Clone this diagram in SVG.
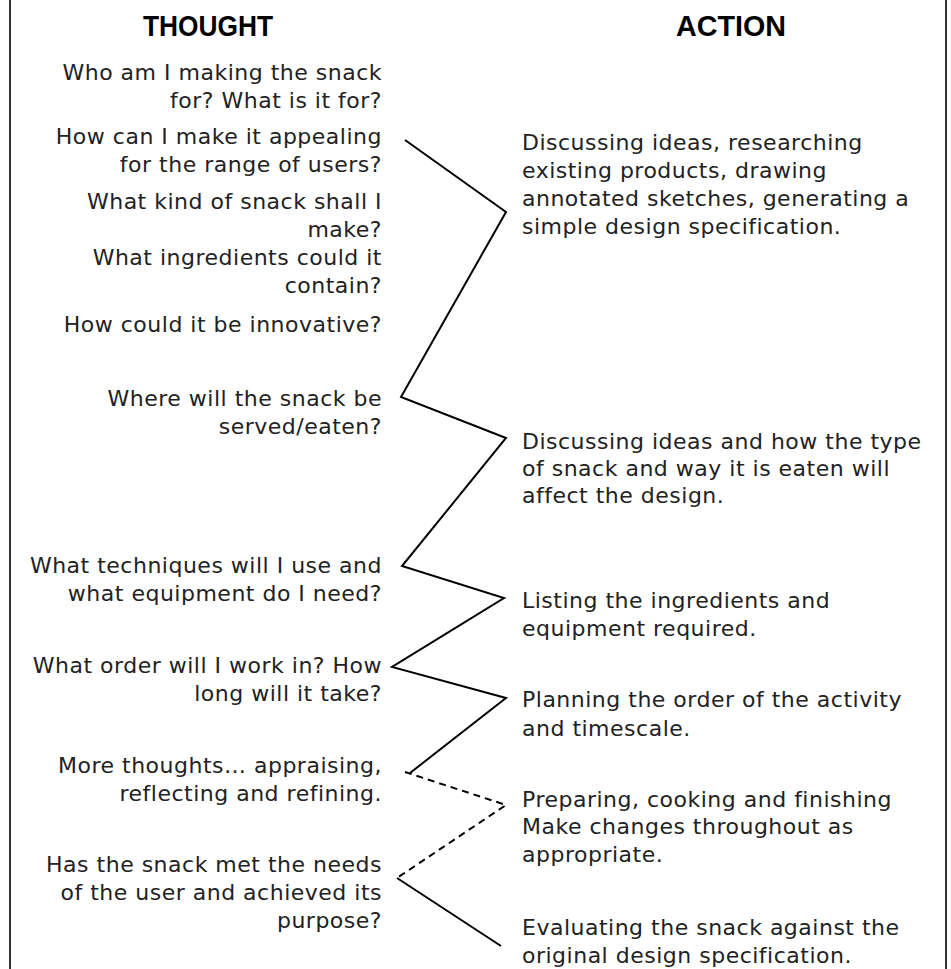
<svg xmlns="http://www.w3.org/2000/svg" width="951" height="969" viewBox="0 0 951 969">
<style>
.bg{fill:#ffffff}
.frame{stroke:#333;stroke-width:2;fill:none}
.hd{font-family:"Liberation Sans",Arial,sans-serif;font-weight:bold;font-size:29px;fill:#000}
.t{font-family:"DejaVu Sans","Liberation Sans",sans-serif;font-size:22px;fill:#222;letter-spacing:0.5px}
.l{text-anchor:end}
.zz{stroke:#000;stroke-width:2;fill:none;stroke-linejoin:miter}
.dash{stroke-dasharray:7 5}
</style>
<rect class="bg" x="0" y="0" width="951" height="969"/>
<g id="frame">
<line class="frame" x1="10" y1="0" x2="10" y2="969"/>
<line class="frame" x1="946" y1="0" x2="946" y2="969"/>
</g>
<g id="headers">
<text class="hd" x="143" y="36" textLength="130" lengthAdjust="spacingAndGlyphs">THOUGHT</text>
<text class="hd" x="676" y="36" textLength="110" lengthAdjust="spacingAndGlyphs">ACTION</text>
</g>
<g id="thoughts" class="t l">
<g id="t1"><text x="382" y="80">Who am I making the snack</text><text x="382" y="108">for? What is it for?</text></g>
<g id="t2"><text x="382" y="144">How can I make it appealing</text><text x="382" y="172">for the range of users?</text></g>
<g id="t3"><text x="382" y="209">What kind of snack shall I</text><text x="382" y="237">make?</text></g>
<g id="t4"><text x="382" y="265">What ingredients could it</text><text x="382" y="293">contain?</text></g>
<g id="t5"><text x="382" y="332">How could it be innovative?</text></g>
<g id="t6"><text x="382" y="406">Where will the snack be</text><text x="382" y="434">served/eaten?</text></g>
<g id="t7"><text x="382" y="573">What techniques will I use and</text><text x="382" y="601">what equipment do I need?</text></g>
<g id="t8"><text x="382" y="673">What order will I work in? How</text><text x="382" y="701">long will it take?</text></g>
<g id="t9"><text x="382" y="773">More thoughts… appraising,</text><text x="382" y="801">reflecting and refining.</text></g>
<g id="t10"><text x="382" y="872">Has the snack met the needs</text><text x="382" y="900">of the user and achieved its</text><text x="382" y="928">purpose?</text></g>
</g>
<g id="actions" class="t">
<g id="a1"><text x="522" y="150">Discussing ideas, researching</text><text x="522" y="178">existing products, drawing</text><text x="522" y="206">annotated sketches, generating a</text><text x="522" y="234">simple design specification.</text></g>
<g id="a2"><text x="522" y="449">Discussing ideas and how the type</text><text x="522" y="476">of snack and way it is eaten will</text><text x="522" y="503">affect the design.</text></g>
<g id="a3"><text x="522" y="608">Listing the ingredients and</text><text x="522" y="636">equipment required.</text></g>
<g id="a4"><text x="522" y="707">Planning the order of the activity</text><text x="522" y="736">and timescale.</text></g>
<g id="a5"><text x="522" y="807">Preparing, cooking and finishing</text><text x="522" y="834">Make changes throughout as</text><text x="522" y="862">appropriate.</text></g>
<g id="a6"><text x="522" y="935">Evaluating the snack against the</text><text x="522" y="963">original design specification.</text></g>
</g>
<g id="connectors">
<polyline class="zz" points="405,140 506,212 401,397 506,438 402,566 504,598 392,667 506,698 410,773"/>
<polyline class="zz dash" points="405,772 506,805 397,878"/>
<polyline class="zz" points="397,878 501,946"/>
</g>
</svg>
